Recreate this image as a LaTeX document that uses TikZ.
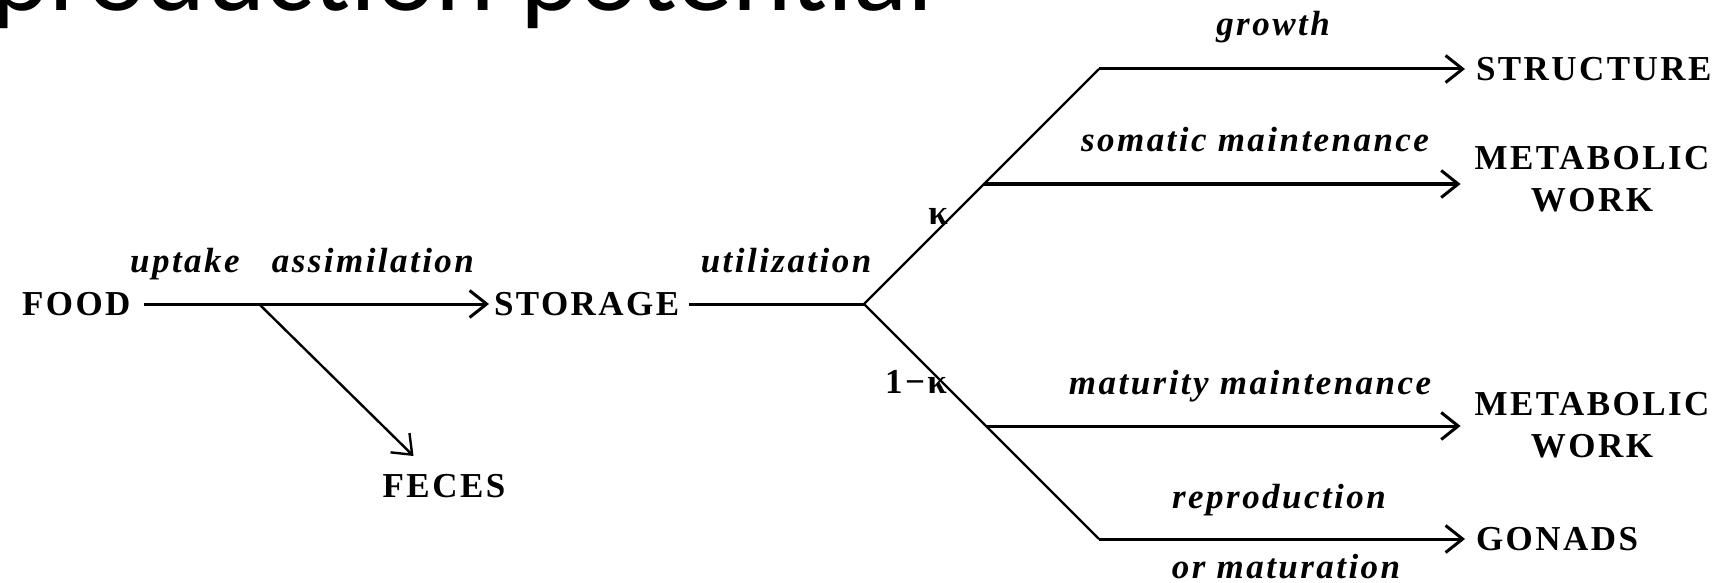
\documentclass[tikz,border=0pt]{standalone}
\usepackage{fontspec}
\setmainfont{Liberation Serif}
\newfontfamily\diagfont[LetterSpace=7]{Liberation Serif}
\newfontfamily\titlefont{Carlito}
\usetikzlibrary{arrows.meta}

\tikzset{barb/.tip={Straight Barb[length=17pt,width=27pt]}}

\begin{document}
\begin{tikzpicture}[x=1pt,y=-1pt,
  every node/.style={inner sep=0pt, outer sep=0pt},
  pool/.style={font=\diagfont\fontsize{35}{42}\selectfont\bfseries},
  flowlabel/.style={font=\diagfont\fontsize{35}{42}\selectfont\bfseries\itshape, anchor=base},
  flow/.style={line width=3pt, -barb},
  thinflow/.style={line width=2.4pt, -barb},
  trunk/.style={line width=3pt},
  branch/.style={line width=2.4pt},
]
\useasboundingbox (0,0) rectangle (1714,583);
\clip (0,0) rectangle (1714,583);

% heading of the slide, partly cut off at the top
\node[font=\titlefont\fontsize{113}{130}\selectfont, anchor=base east] (title) at (934,11) {production potential};

% pools
\node[pool, anchor=west] (food) at (22,304) {FOOD};
\node[pool, anchor=west] (storage) at (494,304) {STORAGE};
\node[pool] (feces) at (444,486) {FECES};
\node[pool, anchor=west] (structure) at (1476,69) {STRUCTURE};
\node[pool, align=center] (work1) at (1592,179.5) {METABOLIC\\WORK};
\node[pool, align=center] (work2) at (1592,425) {METABOLIC\\WORK};
\node[pool, anchor=west] (gonads) at (1476,539) {GONADS};

% branching points
\coordinate (fb) at (259,304);
\coordinate (fork) at (864,304);
\coordinate (kup) at (1099,69);
\coordinate (som) at (984,184);
\coordinate (mat) at (986,426);
\coordinate (klo) at (1099,539);

% fluxes
\draw[flow, shorten <=14pt, shorten >=5pt] (food.east) -- (storage.west);
\draw[thinflow, shorten >=26pt] (fb) -- (feces);
\draw[trunk, shorten <=10pt] (storage.east) -- (fork);
\draw[branch] (fork) -- (kup);
\draw[branch] (fork) -- (klo);
\draw[flow, shorten >=11pt] (kup) -- (structure.west);
\draw[flow, shorten >=14pt] (som) -- (work1.west |- som);
\draw[flow, shorten >=14pt] (mat) -- (work2.west |- mat);
\draw[flow, shorten >=11pt] (klo) -- (gonads.west);

% flux labels
\node[flowlabel] (lupt) at (302,272) {uptake\hspace{0.6em} assimilation};
\node[flowlabel] (lutil) at (786,272) {utilization};
\node[flowlabel] (lgrowth) at (1273,36) {growth};
\node[flowlabel] (lsom) at (1255,152) {somatic maintenance};
\node[flowlabel] (lmat) at (1250,394) {maturity maintenance};
\node[flowlabel] (lrep) at (1279,508) {reproduction};
\node[flowlabel] (lormat) at (1286,578) {or maturation};
\node[pool, anchor=base] (kappa) at (938,224) {κ};
\node[pool, anchor=base] (onemk) at (916,393) {1−κ};
\end{tikzpicture}
\end{document}
